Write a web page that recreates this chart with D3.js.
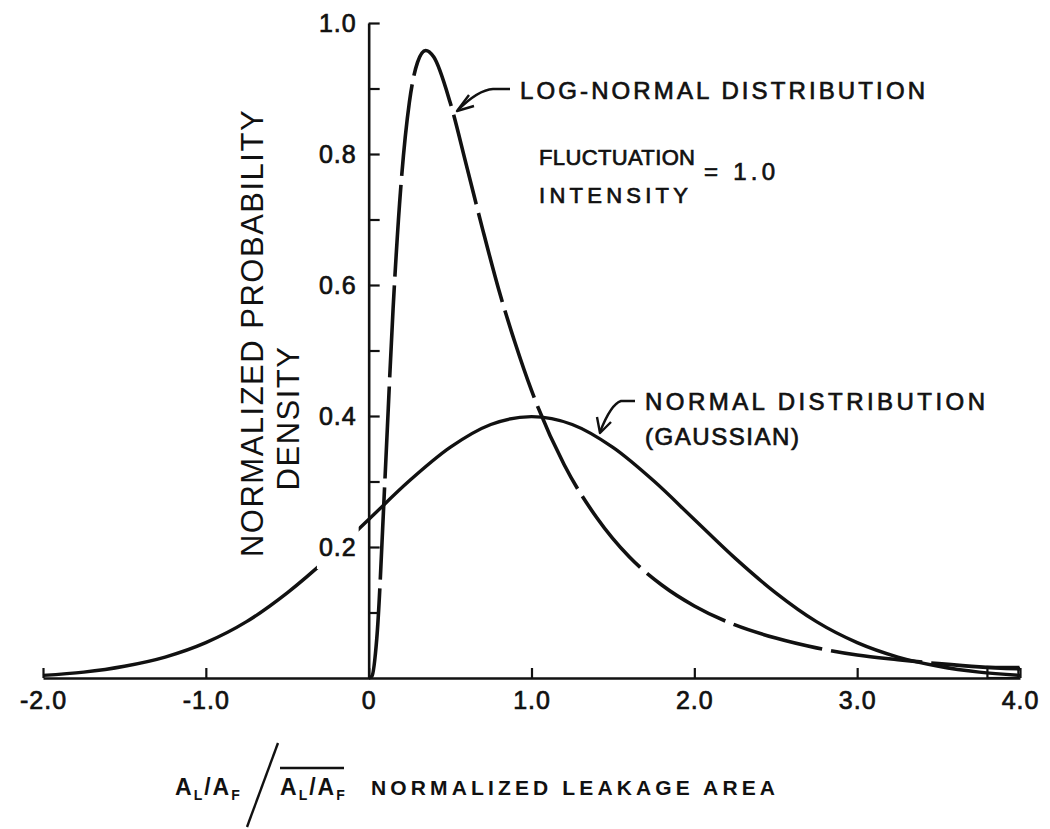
<!DOCTYPE html>
<html>
<head>
<meta charset="utf-8">
<script src="https://cdn.jsdelivr.net/npm/d3@7"></script>
<style>
  body { margin: 0; background: #fff; }
  svg { display: block; }
  text { font-family: "Liberation Sans", Arial, sans-serif; fill: #111; }
  .med { stroke: #111; stroke-width: 0.7px; }
</style>
</head>
<body>
<svg id="chart"></svg>
<script>
// values
const xTicks = [-2, -1, 0, 1, 2, 3, 4];
const yTicks = [0.1, 0.2, 0.3, 0.4, 0.5, 0.6, 0.7, 0.8, 0.9, 1.0];
const yLabels = [0.2, 0.4, 0.6, 0.8, 1.0];

const normalX = [-2, -1.75, -1.5, -1.25, -1, -0.75, -0.5, -0.25, 0, 0.25, 0.5, 0.75, 1,
  1.25, 1.5, 1.75, 2, 2.25, 2.5, 2.75, 3, 3.25, 3.5, 3.75, 4];
const normalY = [0.004, 0.009, 0.018, 0.032, 0.054, 0.086, 0.130, 0.183, 0.242, 0.301, 0.352, 0.387, 0.399,
  0.387, 0.352, 0.301, 0.242, 0.183, 0.130, 0.086, 0.054, 0.032, 0.018, 0.009, 0.004];

const logNormX = [0, 0.02, 0.05, 0.1, 0.15, 0.2, 0.25, 0.3, 0.35, 0.4, 0.5, 0.6, 0.7, 0.8, 0.9, 1.0,
  1.2, 1.4, 1.6, 1.8, 2.0, 2.25, 2.5, 2.75, 3.0, 3.25, 3.5, 3.75, 4.0];
const logNormY = [0, 0.003, 0.061, 0.303, 0.564, 0.758, 0.879, 0.940, 0.958, 0.948, 0.879, 0.783, 0.685, 0.592, 0.511, 0.439,
  0.326, 0.245, 0.185, 0.142, 0.110, 0.081, 0.061, 0.046, 0.035, 0.028, 0.022, 0.017, 0.014];

const W = 1050, H = 829;
const svg = d3.select("#chart").attr("width", W).attr("height", H);

const x = d3.scaleLinear().domain([-2, 4]).range([43, 1020]);
const y = d3.scaleLinear().domain([0, 1]).range([678, 23]);

const gCurves = svg.append("g");
const gMask = svg.append("g");
const gAxes = svg.append("g");

const line = d3.line()
  .x(d => x(d[0]))
  .y(d => y(d[1]))
  .curve(d3.curveMonotoneX);

// curves
gCurves.append("path")
  .datum(d3.zip(normalX, normalY))
  .attr("d", line)
  .attr("fill", "none")
  .attr("stroke", "#111")
  .attr("stroke-width", 3.4);

gCurves.append("path")
  .datum(d3.zip(logNormX, logNormY))
  .attr("d", line)
  .attr("fill", "none")
  .attr("stroke", "#111")
  .attr("stroke-width", 3.6)
  .attr("stroke-dasharray", "92 9");

// little box where the tails end
gCurves.append("rect")
  .attr("x", x(3.8)).attr("y", y(0.017))
  .attr("width", x(3.99) - x(3.8)).attr("height", y(0) - y(0.017))
  .attr("fill", "none").attr("stroke", "#111").attr("stroke-width", 2.2);

// axes
const xAxis = d3.axisBottom(x)
  .tickValues(xTicks)
  .tickSizeInner(-10)
  .tickSizeOuter(0)
  .tickPadding(13)
  .tickFormat(d => d === 0 ? "0" : (d < 0 ? "-" : "") + Math.abs(d).toFixed(1));

const gx = gAxes.append("g")
  .attr("transform", `translate(0,${y(0)})`)
  .call(xAxis);

const yAxis = d3.axisLeft(y)
  .tickValues(yTicks)
  .tickSizeInner(-11)
  .tickSizeOuter(0)
  .tickPadding(12)
  .tickFormat(d => yLabels.some(v => Math.abs(v - d) < 1e-9) ? d.toFixed(1) : "");

const gy = gAxes.append("g")
  .attr("transform", `translate(${x(0)},0)`)
  .call(yAxis);

[gx, gy].forEach(g => {
  g.select(".domain").attr("stroke", "#111").attr("stroke-width", 2.6);
  g.selectAll(".tick line").attr("stroke", "#111").attr("stroke-width", 2.2);
  g.selectAll(".tick text")
    .attr("font-family", "Liberation Sans, Arial, sans-serif")
    .attr("font-size", 25)
    .attr("fill", "#111")
    .attr("class", "med")
    .style("letter-spacing", "1px");
});
gx.selectAll(".tick text").attr("dy", "0.71em");

// the gaussian line breaks behind the "0.2" label
gy.selectAll(".tick")
  .filter(d => Math.abs(d - 0.2) < 1e-9)
  .each(function() {
    const b = d3.select(this).select("text").node().getBBox();
    gMask.append("rect")
      .attr("x", x(0) + b.x - 2).attr("y", y(0.2) + b.y - 9)
      .attr("width", b.width + 4).attr("height", b.height + 18)
      .attr("fill", "#fff");
  });

// y title
svg.append("text")
  .attr("transform", "translate(263,333) rotate(-90)")
  .attr("text-anchor", "middle")
  .attr("font-size", 31)
  .style("letter-spacing", "1.5px")
  .text("NORMALIZED PROBABILITY");
svg.append("text")
  .attr("transform", "translate(299,418) rotate(-90)")
  .attr("text-anchor", "middle")
  .attr("font-size", 31)
  .style("letter-spacing", "1.5px")
  .text("DENSITY");

// annotations
const note = (tx, ty, s, len, fs = 24) => svg.append("text")
  .attr("x", tx).attr("y", ty)
  .attr("font-size", fs)
  .attr("class", "med")
  .attr("textLength", len)
  .attr("lengthAdjust", "spacing")
  .text(s);

note(520, 99, "LOG-NORMAL DISTRIBUTION", 405);
note(539, 165, "FLUCTUATION", 156, 22);
note(539, 203, "INTENSITY", 149, 22);
note(704, 180, "= 1.0", 71);
note(645, 410, "NORMAL DISTRIBUTION", 340);
note(645, 445, "(GAUSSIAN)", 154);

const arrow = (d) => svg.append("path")
  .attr("d", d)
  .attr("fill", "none")
  .attr("stroke", "#111")
  .attr("stroke-width", 2.4)
  .attr("stroke-linejoin", "round");

arrow("M510,89 L493,89 Q478,90 458,110");
arrow("M469,95 L457,111 L474,106");
arrow("M635,401 L621,401 Q611,404 600,432");
arrow("M597,417 L600,433 L611,422");

// x title
const xt = (tx) => {
  const t = svg.append("text").attr("x", tx).attr("y", 795)
    .attr("font-size", 23).attr("font-weight", "bold")
    .style("letter-spacing", "2px");
  t.append("tspan").text("A");
  t.append("tspan").attr("font-size", 14).attr("dy", 5).text("L");
  t.append("tspan").attr("dy", -5).text("/A");
  t.append("tspan").attr("font-size", 14).attr("dy", 5).text("F");
};
xt(175);
xt(280);

svg.append("line")
  .attr("x1", 247).attr("y1", 827).attr("x2", 278).attr("y2", 743)
  .attr("stroke", "#111").attr("stroke-width", 2.4);
svg.append("line")
  .attr("x1", 280).attr("y1", 768).attr("x2", 344).attr("y2", 768)
  .attr("stroke", "#111").attr("stroke-width", 2.4);

svg.append("text")
  .attr("x", 371).attr("y", 795)
  .attr("font-size", 21).attr("font-weight", "bold")
  .attr("textLength", 404)
  .attr("lengthAdjust", "spacing")
  .text("NORMALIZED LEAKAGE AREA");
</script>
</body>
</html>
